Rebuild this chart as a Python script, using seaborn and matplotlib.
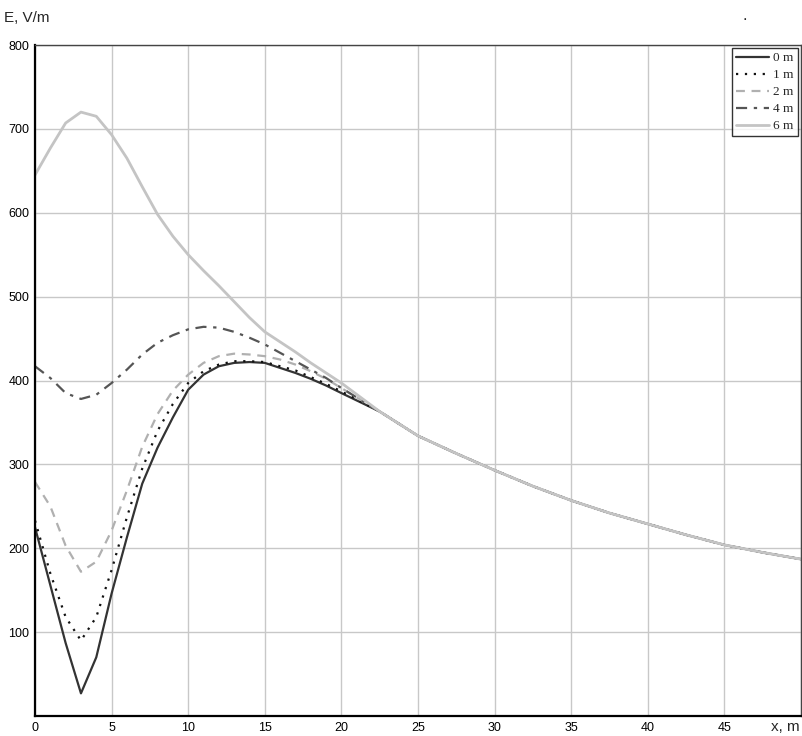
import matplotlib
matplotlib.use("Agg")
import matplotlib.pyplot as plt
import numpy as np
import pandas as pd
import seaborn as sns

# distance along x, m
x_near = [0, 1, 2, 3, 4, 5, 6, 7, 8, 9, 10, 11, 12, 13, 14, 15, 16, 17, 18, 19, 20]
x_far = [22.5, 25, 27.5, 30, 32.5, 35, 37.5, 40, 42.5, 45, 47.5, 50]

# field strength E, V/m (near part differs per height, far part is common)
e_0m = [225, 156, 87, 27, 70, 146, 213, 277, 320, 356, 389, 407, 417, 421, 422, 421, 415, 409, 402, 394, 385]
e_1m = [233, 170, 118, 90, 118, 174, 237, 295, 340, 372, 397, 411, 419, 423, 423, 422, 417, 412, 404, 396, 387]
e_2m = [279, 250, 203, 172, 184, 221, 269, 321, 360, 388, 407, 421, 429, 432, 431, 429, 425, 419, 411, 402, 391]
e_4m = [417, 403, 385, 378, 383, 397, 413, 431, 445, 454, 461, 464, 463, 458, 451, 443, 433, 423, 413, 403, 391]
e_6m = [645, 677, 707, 720, 715, 693, 665, 631, 598, 572, 550, 531, 513, 494, 475, 458, 446, 434, 421, 409, 397]
e_far = [363, 334, 313, 293, 274, 257, 242, 229, 216, 204, 195, 187]

labels = ["0 m", "1 m", "2 m", "4 m", "6 m"]
series = [e_0m, e_1m, e_2m, e_4m, e_6m]

frames = []
for lab, vals in zip(labels, series):
    frames.append(pd.DataFrame({"x": x_near + x_far, "E": vals + e_far, "h": lab}))
df = pd.concat(frames, ignore_index=True)

sns.set_style("white")
plt.rcParams["font.family"] = ["Liberation Sans", "DejaVu Sans"]

fig = plt.figure(figsize=(8.03, 7.36), dpi=100)
ax = fig.add_axes([35 / 803, 20 / 736, 766 / 803, 671 / 736])

styles = {
    "0 m": dict(color="#333333", lw=1.6, ls="-"),
    "1 m": dict(color="#111111", lw=1.6, ls=(0, (1, 3))),
    "2 m": dict(color="#b0b0b0", lw=1.6, ls=(0, (4, 3))),
    "4 m": dict(color="#555555", lw=1.6, ls=(0, (5, 3, 1.5, 3))),
    "6 m": dict(color="#c4c4c4", lw=2.0, ls="-"),
}

for lab in labels:
    st = styles[lab]
    sns.lineplot(data=df[df["h"] == lab], x="x", y="E", ax=ax, label=lab,
                 color=st["color"], linewidth=st["lw"], linestyle=st["ls"])

ax.set_xlim(0, 50)
ax.set_ylim(0, 800)
ax.set_xticks(np.arange(0, 51, 5))
ax.set_xticklabels([str(v) for v in range(0, 50, 5)] + [""])
ax.set_yticks(np.arange(0, 801, 100))
ax.set_yticklabels([""] + [str(v) for v in range(100, 801, 100)])
ax.grid(True, color="#c8c8c8", linewidth=1)
ax.tick_params(length=0, labelsize=9, pad=4, colors="black")
ax.set_xlabel("")
ax.set_ylabel("")

for side in ["left", "bottom"]:
    ax.spines[side].set_color("black")
    ax.spines[side].set_linewidth(1.6)
for side in ["top", "right"]:
    ax.spines[side].set_color("#444444")
    ax.spines[side].set_linewidth(1.0)

leg = ax.legend(loc="upper right", frameon=True, fancybox=False, borderaxespad=0.25,
                prop={"family": "Liberation Serif", "size": 9.5}, handlelength=2.5,
                labelspacing=0.36, borderpad=0.3, handletextpad=0.3)
leg.get_frame().set_edgecolor("black")
leg.get_frame().set_linewidth(1.0)

fig.text(4 / 803, 1 - 18 / 736, "E, V/m", fontsize=11, va="center", ha="left")
fig.text(800 / 803, 1 - 727 / 736, "x, m", fontsize=11, va="center", ha="right")
fig.text(745 / 803, 1 - 16 / 736, ".", fontsize=12, va="center", ha="center")

fig.savefig("out.png", dpi=100)
